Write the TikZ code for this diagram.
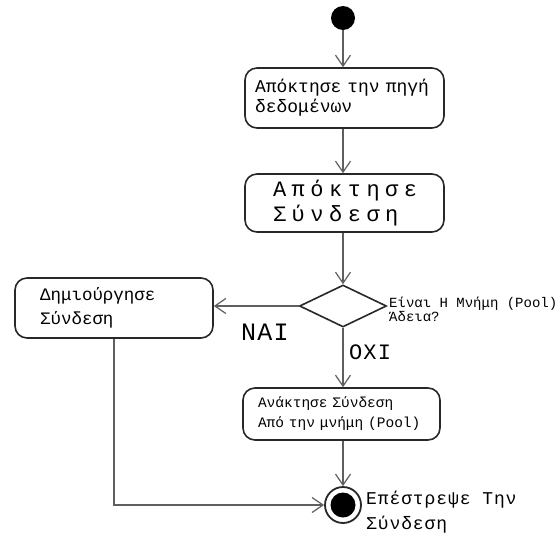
\documentclass[tikz,border=0pt]{standalone}
\usepackage{fontspec}
\setmainfont{Liberation Mono}
\newfontfamily\widefont[LetterSpace=25]{Liberation Mono}
\newfontfamily\midfont[LetterSpace=5]{Liberation Mono}
\usetikzlibrary{arrows.meta,shapes.geometric}
\definecolor{boxcol}{RGB}{40,40,40}
\definecolor{linecol}{RGB}{95,95,95}
\tikzset{
  actbox/.style={draw=boxcol, line width=1.6pt, rounded corners=12pt, align=left, inner ysep=0pt},
  conn/.style={draw=linecol, line width=1.3pt, -{Straight Barb[length=11pt,width=15pt,line width=1.2pt]}},
}
\begin{document}
\begin{tikzpicture}[x=1pt,y=-1pt]
\useasboundingbox[fill=white] (0,0) rectangle (560,536);

\node[circle, fill=black, minimum size=24pt, inner sep=0pt] (start) at (343,18) {};

\node[actbox, minimum width=199pt, minimum height=60pt, text width=179pt, inner xsep=10pt,
      font=\fontsize{18}{20}\selectfont] (b1) at (344.5,98)
  {Απόκτησε την πηγή\\δεδομένων};

\node[actbox, minimum width=199pt, minimum height=58pt, text width=143pt, inner xsep=28pt,
      font=\widefont\fontsize{22}{25}\selectfont] (b2) at (344.5,203)
  {Απόκτησε\\Σύνδεση};

\node[diamond, draw=boxcol, line width=1.6pt, minimum width=87pt, minimum height=42pt, inner sep=0pt] (dia) at (343,306) {};

\node[anchor=west, align=left, inner sep=0pt, font=\fontsize{14}{13}\selectfont] (q) at (389,309)
  {Είναι Η Μνήμη (Pool)\\Άδεια?};

\node[actbox, minimum width=198pt, minimum height=60pt, text width=148pt, inner xsep=25pt,
      font=\fontsize{17.5}{24}\selectfont] (b3) at (114,308)
  {Δημιούργησε\\Σύνδεση};

\node[actbox, minimum width=197pt, minimum height=52pt, text width=167pt, inner xsep=15pt,
      font=\fontsize{14.5}{20}\selectfont] (b4) at (341.5,414)
  {Ανάκτησε Σύνδεση\\Από την μνήμη (Pool)};

\node[circle, draw=boxcol, line width=1.8pt, minimum size=36pt, inner sep=0pt,
      path picture={\fill[black] (path picture bounding box.center) circle (12.5pt);}] (end) at (343,505) {};

\node[anchor=base west, align=left, inner sep=0pt, font=\midfont\fontsize{18}{25}\selectfont] (endlbl) at (366,529)
  {Επέστρεψε Την\\Σύνδεση};

\node[anchor=base west, inner sep=0pt, font=\midfont\fontsize{25}{25}\selectfont] (nai) at (241,340) {NAI};
\node[anchor=base west, inner sep=0pt, font=\midfont\fontsize{22}{22}\selectfont] (oxi) at (349,359) {OXI};

\draw[conn] (start) -- (start |- b1.north);
\draw[conn] (b1.south -| start) -- (b2.north -| start);
\draw[conn] (b2.south -| start) -- (dia.north);
\draw[conn] (dia.west) -- (dia.west -| b3.east);
\draw[conn] (dia.south) -- (b4.north -| start);
\draw[conn] (b4.south -| start) -- (end.north);
\draw[conn] (b3.south) |- (end.west);
\end{tikzpicture}
\end{document}
